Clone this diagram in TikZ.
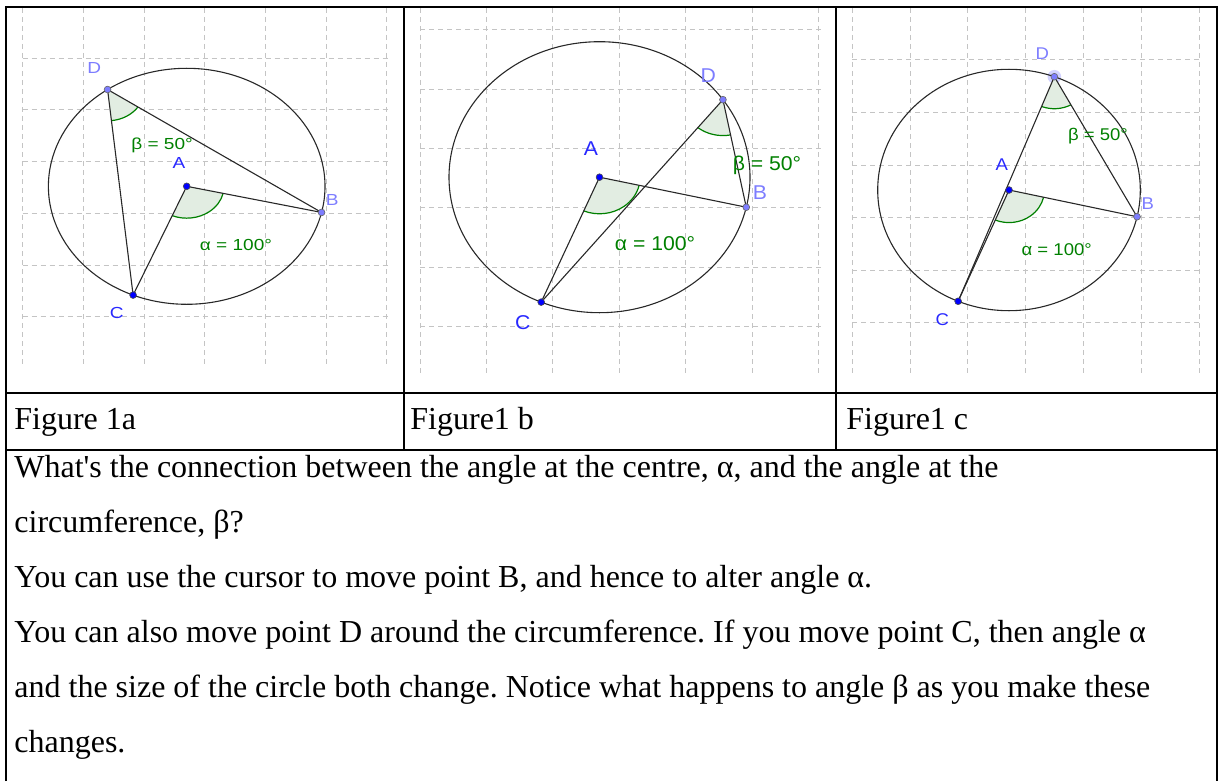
\documentclass[tikz,border=0pt]{standalone}
\usepackage{fontspec}
\usepackage{graphicx}
\setmainfont{Liberation Serif}[Ligatures=TeXOff]
\newfontfamily\ggb{Liberation Sans}
\usetikzlibrary{calc}
\frenchspacing
\definecolor{gridc}{RGB}{196,196,196}
\definecolor{ptdark}{RGB}{0,0,255}
\definecolor{ptlight}{RGB}{125,125,255}
\definecolor{lbldark}{RGB}{40,40,255}
\definecolor{lbllight}{RGB}{125,125,255}
\definecolor{angc}{RGB}{0,128,0}
\definecolor{angfill}{RGB}{226,237,226}
\definecolor{segc}{RGB}{40,40,40}
\newcommand{\sx}[2]{\scalebox{#1}[1]{#2}}
\newcommand{\ggbfig}[4]{%
  \coordinate (A#1) at (0,0);
  \coordinate (B#1) at (-12.8:1);
  \coordinate (C#1) at (-112.8:1);
  \coordinate (D#1) at (#2:1);
  \fill[angfill] (A#1) -- ++(-112.8:0.27) arc[start angle=-112.8,end angle=-12.8,radius=0.27] -- cycle;
  \draw[angarc] (A#1) ++(-112.8:0.27) arc[start angle=-112.8,end angle=-12.8,radius=0.27];
  \fill[angfill] (D#1) -- ++(#3:0.265) arc[start angle=#3,end angle=#4,radius=0.265] -- cycle;
  \draw[angarc] (D#1) ++(#3:0.265) arc[start angle=#3,end angle=#4,radius=0.265];
  \draw[seg] (A#1) circle[radius=1];
  \draw[seg] (A#1) -- (B#1);
  \draw[seg] (A#1) -- (C#1);
  \draw[seg] (D#1) -- (B#1);
  \draw[seg] (D#1) -- (C#1);
}
\begin{document}
\begin{tikzpicture}[x=0.5pt,y=-0.5pt,
  tbl/.style={line width=1pt,black},
  gridline/.style={gridc,line width=0.5pt,dash pattern=on 2.5pt off 2pt},
  seg/.style={segc,line width=0.55pt},
  angarc/.style={angc,line width=0.6pt},
  dotdark/.style={circle,inner sep=0pt,minimum size=3.4pt,fill=ptdark,draw=black!70,line width=0.3pt},
  dotlight/.style={circle,inner sep=0pt,minimum size=3.4pt,fill=ptlight,draw=black!60,line width=0.3pt},
  txt/.style={anchor=base west,inner sep=0pt,font=\fontsize{16}{19}\selectfont},
  glab/.style={inner sep=0pt,anchor=center}
]
\useasboundingbox (0,0) rectangle (1219,781);
% grids
\foreach \i in {0,...,6} \draw[gridline] ({22.7+60.7*\i},8) -- ({22.7+60.7*\i},367);
\foreach \j in {0,...,5} \draw[gridline] (22.7,{58.3+51.7*\j}) -- (388,{58.3+51.7*\j});
\foreach \i in {0,...,6} \draw[gridline] ({420+66.4*\i},8) -- ({420+66.4*\i},373);
\foreach \j in {0,...,5} \draw[gridline] (420,{30+59.3*\j}) -- (822,{30+59.3*\j});
\foreach \i in {0,...,6} \draw[gridline] ({852.3+57.8*\i},8) -- ({852.3+57.8*\i},373);
\foreach \j in {0,...,5} \draw[gridline] (852.3,{60+52.5*\j}) -- (1202,{60+52.5*\j});
% figure 1a
\begin{scope}[shift={(186.7,186.3)},x=69.15pt,y=59pt]
  \ggbfig{1}{124.9}{-83.95}{-33.95}
\end{scope}
% figure 1b
\begin{scope}[shift={(599.5,177.2)},x=75.25pt,y=67.75pt]
  \ggbfig{2}{34.9}{231.05}{281.1}
\end{scope}
% figure 1c
\begin{scope}[shift={(1009,190)},x=65.65pt,y=60.35pt]
  \fill[ptlight!35] (69.8:1) circle[radius=3.4pt];
  \ggbfig{3}{69.8}{248.5}{298.55}
\end{scope}
% points
\foreach \f in {1,2,3}{
  \node[dotdark] (A\f d) at (A\f) {};
  \node[dotdark] (C\f d) at (C\f) {};
  \node[dotlight] (B\f d) at (B\f) {};
  \node[dotlight] (D\f d) at (D\f) {};
}
% labels fig 1a
\begin{scope}[every node/.append style={font=\ggb\fontsize{8}{8}\selectfont}]
  \node[glab,text=lbllight] (lD1) at (94.3,68.3) {\sx{1.19}{D}};
  \node[glab,text=lbldark] (lA1) at (179,163.3) {\sx{1.19}{A}};
  \node[glab,text=lbllight] (lB1) at (332.3,200) {\sx{1.19}{B}};
  \node[glab,text=lbldark] (lC1) at (116.7,313.3) {\sx{1.19}{C}};
  \node[glab,text=angc] (be1) at (162,145.7) {\sx{1.19}{β = 50°}};
  \node[glab,text=angc] (al1) at (236,245) {\sx{1.19}{α = 100°}};
\end{scope}
\begin{scope}[every node/.append style={font=\ggb\fontsize{10}{10}\selectfont}]
  \node[glab,text=lbllight] (lD2) at (708.3,76) {\sx{1.06}{D}};
  \node[glab,text=lbldark] (lA2) at (591,149) {\sx{1.06}{A}};
  \node[glab,text=lbllight] (lB2) at (760,192.7) {\sx{1.06}{B}};
  \node[glab,text=lbldark] (lC2) at (522.7,322.7) {\sx{1.06}{C}};
  \node[glab,text=angc] (be2) at (767,165) {\sx{1.06}{β = 50°}};
  \node[glab,text=angc] (al2) at (655,244) {\sx{1.06}{α = 100°}};
\end{scope}
\begin{scope}[every node/.append style={font=\ggb\fontsize{8.5}{8.5}\selectfont}]
  \node[glab,text=lbllight] (lD3) at (1042.3,54) {\sx{1.09}{D}};
  \node[glab,text=lbldark] (lA3) at (1001.7,164.3) {\sx{1.09}{A}};
  \node[glab,text=lbllight] (lB3) at (1147.7,203.3) {\sx{1.09}{B}};
  \node[glab,text=lbldark] (lC3) at (942.3,319.3) {\sx{1.09}{C}};
  \node[glab,text=angc] (be3) at (1098,136) {\sx{1.09}{β = 50°}};
  \node[glab,text=angc] (al3) at (1056.7,249.3) {\sx{1.09}{α = 100°}};
\end{scope}
% table
\draw[tbl] (6,781) -- (6,7) -- (1217,7) -- (1217,781);
\draw[tbl] (404,7) -- (404,450);
\draw[tbl] (836,7) -- (836,450);
\draw[tbl] (6,393) -- (1217,393);
\draw[tbl] (6,450) -- (1217,450);
% captions
\node[txt] (cap1) at (14,429) {Figure 1a};
\node[txt] (cap2) at (410,429) {Figure1 b};
\node[txt] (cap3) at (846,429) {Figure1 c};
% body text
\node[txt] (t1) at (14,477) {What's the connection between the angle at the centre, α, and the angle at the};
\node[txt] (t2) at (14,532) {circumference, β?};
\node[txt] (t3) at (14,587) {You can use the cursor to move point B, and hence to alter angle α.};
\node[txt] (t4) at (14,642) {You can also move point D around the circumference. If you move point C, then angle α};
\node[txt] (t5) at (14,697) {and the size of the circle both change. Notice what happens to angle β as you make these};
\node[txt] (t6) at (14,752) {changes.};
\end{tikzpicture}
\end{document}
